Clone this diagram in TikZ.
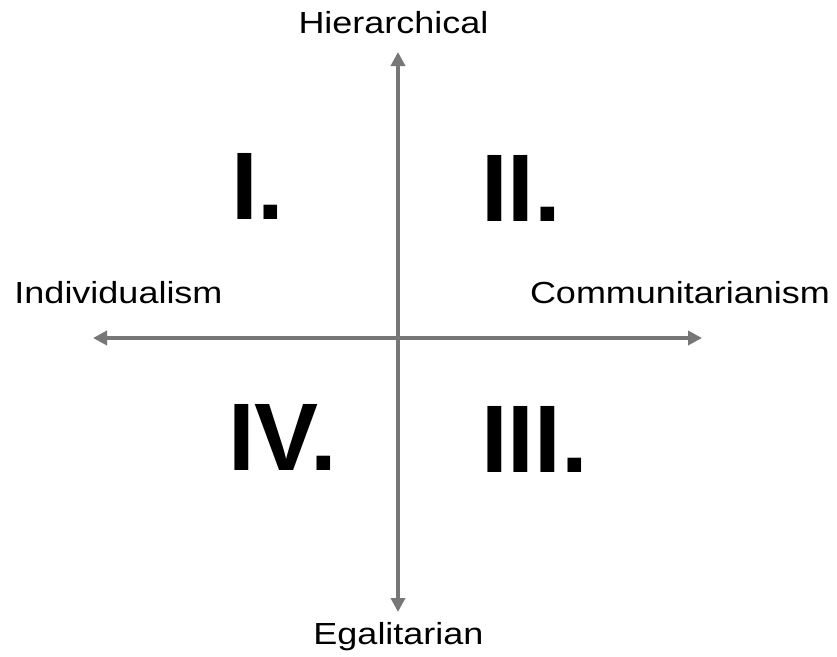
\documentclass[tikz,border=0pt]{standalone}
\usepackage{fontspec}
\setmainfont{Liberation Sans}
\newfontfamily\axisfont[FakeStretch=1.18]{Liberation Sans}
\usetikzlibrary{arrows.meta}
\definecolor{axisgrey}{HTML}{777777}
\tikzset{
  axis/.style={
    draw=axisgrey,
    line width=4pt,
    -{Triangle[length=14pt,width=14pt]}
  },
  axislabel/.style={
    font=\axisfont\fontsize{30.5}{36}\selectfont,
    inner sep=0pt,
    anchor=base
  },
  quadrant/.style={
    font=\fontsize{96}{110}\selectfont\bfseries,
    inner sep=0pt,
    anchor=base west
  }
}

\begin{document}
\begin{tikzpicture}[x=1pt,y=-1pt]
    \useasboundingbox (0,0) rectangle (837,656);
    % axis ends
    \coordinate (o) at (398,338);
    \coordinate (top) at (398,52);
    \coordinate (bottom) at (398,612);
    \coordinate (left) at (93,338);
    \coordinate (right) at (702,338);
    \draw[axis] (o) -- (top);
    \draw[axis] (o) -- (bottom);
    \draw[axis] (o) -- (left);
    \draw[axis] (o) -- (right);
    % axis labels
    \node[axislabel] (hier) at (393.5,33) {Hierarchical};
    \node[axislabel] (egal) at (398.5,644) {Egalitarian};
    \node[axislabel] (indiv) at (118.5,303) {Individualism};
    \node[axislabel] (comm) at (680,303) {Communitarianism};
    % quadrants
    \node[quadrant] (q1) at (231,219) {I.};
    \node[quadrant] (q2) at (481,221) {II.};
    \node[quadrant] (q3) at (481,472) {III.};
    \node[quadrant] (q4) at (228,470) {IV.};
\end{tikzpicture}
\end{document}
